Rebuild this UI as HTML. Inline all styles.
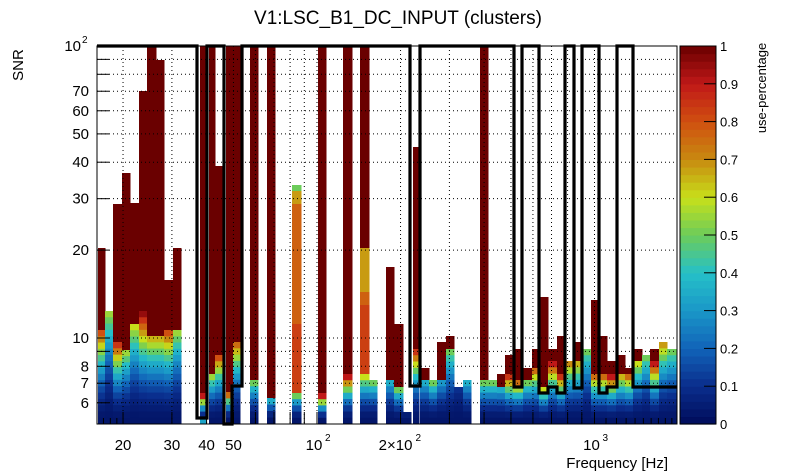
<!DOCTYPE html>
<html><head><meta charset="utf-8"><style>
body{margin:0;background:#fff;}
svg{display:block;font-family:"Liberation Sans",sans-serif;}
</style></head><body>
<svg id="s" width="805" height="472" xmlns="http://www.w3.org/2000/svg">
<rect width="805" height="472" fill="#fff"/>
<g id="data"></g>
<g id="grid" stroke="#000" stroke-width="1" stroke-dasharray="1,3"></g>
<g id="ax"></g>
<path d="M97,46 H197 V418 H207 V46 H224 V424 H232 V386 H242 V46 H410 V386 H420 V46 H514 V387 H522 V46 H539 V393 H548 V387 H557 V393 H565 V46 H574 V388 H582 V46 H599 V393 H607 V387 H617 V46 H633 V387 H677" fill="none" stroke="#000" stroke-width="3.2"/>
<rect x="97" y="46" width="580" height="378" fill="none" stroke="#000" stroke-width="1"/>
<text x="398" y="24" font-size="19" text-anchor="middle">V1:LSC_B1_DC_INPUT (clusters)</text>
<text transform="translate(23,65) rotate(-90)" font-size="15" text-anchor="middle">SNR</text>
<text x="668" y="468" font-size="15" text-anchor="end">Frequency [Hz]</text>
<g id="cb"></g>
<text transform="translate(766,88) rotate(-90)" font-size="13" text-anchor="middle">use-percentage</text>
</svg>
<script>
const NS="http://www.w3.org/2000/svg";
function el(p,t,a,txt){const e=document.createElementNS(NS,t);for(const k in a)e.setAttribute(k,a[k]);if(txt!==undefined)e.textContent=txt;p.appendChild(e);return e;}
const stops=[[0,[0,12,90]],[0.1,[10,45,140]],[0.2,[17,99,184]],[0.3,[26,151,200]],[0.4,[37,192,200]],[0.5,[108,204,90]],[0.6,[200,224,26]],[0.7,[200,138,16]],[0.8,[208,80,16]],[0.9,[192,24,24]],[1,[106,0,0]]];
function col(v){v=Math.max(0,Math.min(1,v));for(let i=1;i<stops.length;i++){if(v<=stops[i][0]){const a=stops[i-1],b=stops[i];const t=(v-a[0])/(b[0]-a[0]);const c=a[1].map((x,j)=>Math.round(x+(b[1][j]-x)*t));return `rgb(${c})`;}}return "rgb(106,0,0)";}
const D=document.getElementById("data");
function R(x0,x1,y0,y1,v){el(D,"rect",{x:x0,y:y0,width:x1-x0+0.5,height:y1-y0+0.5,fill:col(v)});}
function tail(x0,x1,cs,v){const n=Math.max(1,Math.round((424-cs)/6.4));const h=(424-cs)/n;for(let i=0;i<n;i++){const f=n>1?i/(n-1):1;const vv=0.03+(v-0.03)*Math.pow(1-f,1.8);R(x0,x1,cs+i*h,cs+(i+1)*h,vv);}}
const cols=[[98,105,248,330,0.8],[105,113,null,311,0.55],[113,122,204,342,0.85],[122,130,173,350,0.55],[130,139,203,324,0.6],[139,147,91,311,0.95],[147,156,46,336,0.65],[156,164,60,336,0.65],[164,173,280,330,0.8],[173,181,248,330,0.55],
[200,206,46,393,0.9],[209,215,46,374,0.55],[215,223,166,355,0.8],[226,233,46,392,0.75],[233,240,46,342,0.75],[250,258,46,380,0.5],[267,275,46,398,0.35],
[318,326,46,393,0.9],[343,352,46,374,0.9],[369,377,null,380,0.5],[386,394,267,380,0.35],[394,403,324,387,0.5],[403,411,null,412,0.05],[413,419,147,349,0.85],
[420,429,368,380,0.35],[429,437,null,380,0.5],[437,446,342,380,0.3],[446,454,336,349,0.5],[454,463,null,387,0.1],[463,471,null,380,0.35],[480,488,46,380,0.5],[488,497,null,380,0.5],[497,505,374,387,0.35],[505,513,355,374,0.85],[513,523,349,380,0.75],[523,532,368,380,0.5],[532,539,349,368,0.75],[539,548,297,387,0.6],[548,557,349,361,0.9],[557,565,336,374,0.85],[565,573,null,361,0.7],[573,583,342,361,0.65],[583,591,null,349,0.5],[591,599,300,374,0.75],[599,607,336,374,0.75],[607,616,361,374,0.9],[616,625,355,374,0.65],[625,633,368,374,0.75],[633,642,349,361,0.6],[642,650,null,355,0.5],[650,659,349,361,0.9],[659,667,null,342,0.68],[667,677,null,349,0.5]];
for(const c of cols){if(c[2]!==null)R(c[0],c[1],c[2],c[3],1);tail(c[0],c[1],c[3],c[4]);}
R(292,301,185,191,0.5);R(292,301,191,204,0.68);R(292,301,204,324,0.77);R(292,301,324,393,0.83);tail(292,301,393,0.5);
R(360,369,46,248,1);R(360,369,248,292,0.68);R(360,369,292,305,0.77);R(360,369,305,374,0.83);tail(360,369,374,0.6);
R(200,206,418,424,0.33);
const G=document.getElementById("grid"),A=document.getElementById("ax");
const fx=f=>317+277.5*Math.log10(f/100), fy=s=>338-292*Math.log10(s/10);
const gx=[20,30,40,50,60,70,80,90,100,200,300,400,500,600,700,800,900,1000];
for(const f of gx){const x=fx(f);el(G,"line",{x1:x,x2:x,y1:46,y2:424});el(A,"line",{x1:x,x2:x,y1:424,y2:412,stroke:"#000"});}
for(const f of [17,18,19,1100,1200,1300,1400,1500,1600,1700,1800,1900]){const x=fx(f);el(A,"line",{x1:x,x2:x,y1:424,y2:418,stroke:"#000"});}
const gy=[6,7,8,9,10,20,30,40,50,60,70,80,90];
for(const s of gy){const y=fy(s);el(G,"line",{x1:97,x2:677,y1:y,y2:y});el(A,"line",{x1:97,x2:109,y1:y,y2:y,stroke:"#000"});}
for(const [f,t] of [[20,"20"],[30,"30"],[40,"40"],[50,"50"]])el(A,"text",{x:fx(f),y:450,"font-size":15,"text-anchor":"middle"},t);
el(A,"text",{x:fx(100)-3,y:450,"font-size":15,"text-anchor":"middle"},"10");el(A,"text",{x:fx(100)+8,y:441,"font-size":10},"2");
el(A,"text",{x:fx(200)-5,y:450,"font-size":15,"text-anchor":"middle"},"2×10");el(A,"text",{x:fx(200)+15,y:441,"font-size":10},"2");
el(A,"text",{x:fx(1000)-3,y:450,"font-size":15,"text-anchor":"middle"},"10");el(A,"text",{x:fx(1000)+8,y:441,"font-size":10},"3");
for(const s of [6,7,8,10,20,30,40,50,60,70]){el(A,"text",{x:89,y:fy(s)+5,"font-size":15,"text-anchor":"end"},String(s));}
el(A,"text",{x:81,y:fy(100)+5,"font-size":15,"text-anchor":"end"},"10");el(A,"text",{x:82,y:fy(100)-3,"font-size":10},"2");
const CB=document.getElementById("cb");
for(let i=0;i<50;i++){const v=i/50;const y1=424-378*(i+1)/50,y0=424-378*i/50;el(CB,"rect",{x:680,y:y1,width:36,height:y0-y1+0.6,fill:col(v+0.01)});}
el(CB,"rect",{x:680,y:46,width:36,height:378,fill:"none",stroke:"#000","stroke-width":1});
for(let i=0;i<=10;i++){const y=424-37.8*i;el(CB,"line",{x1:704,x2:716,y1:y,y2:y,stroke:"#000"});el(CB,"text",{x:720,y:y+5,"font-size":13},i==10?"1":i==0?"0":(i/10).toString());}
</script>
</body></html>
